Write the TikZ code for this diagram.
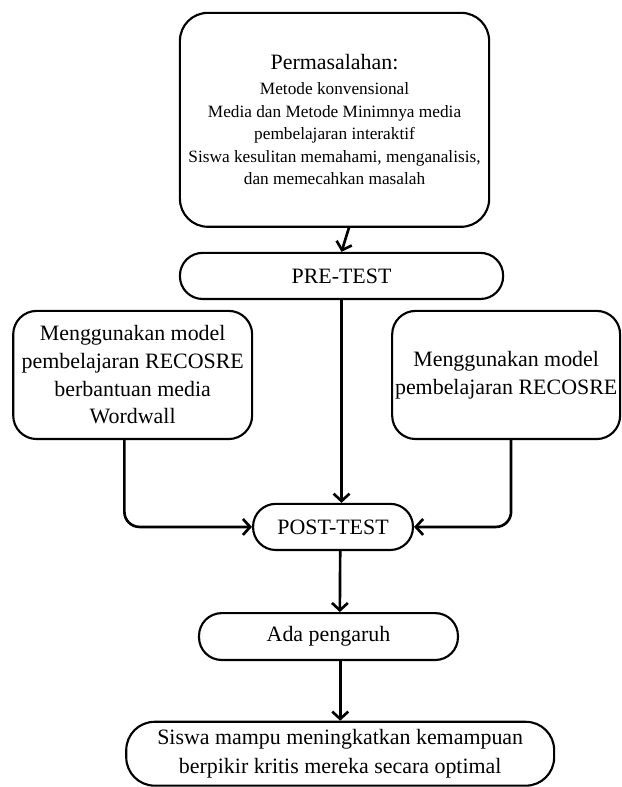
\documentclass[tikz,border=0pt]{standalone}
\usepackage{fontspec}
\setmainfont{Liberation Serif}
\usetikzlibrary{arrows.meta}

\begin{document}
\begin{tikzpicture}[
    every node/.style={align=center},
    probbox/.style={rectangle, draw=black, line width=1.6pt, rounded corners=0.74cm,
                    minimum width=8.18cm, minimum height=5.66cm, inner sep=0pt,
                    font=\fontsize{13}{16.9}\selectfont},
    groupbox/.style={rectangle, draw=black, line width=1.6pt, rounded corners=0.62cm,
                     minimum height=3.39cm, inner sep=0pt,
                     font=\fontsize{16.5}{20.8}\selectfont},
    pill/.style={rectangle, draw=black, line width=1.6pt, rounded corners=0.6cm,
                 minimum height=1.22cm, inner sep=0pt,
                 font=\fontsize{16.5}{22.5}\selectfont},
    arr/.style={-{Straight Barb[length=5.5pt,width=12pt]}, line width=2pt}
  ]
  \useasboundingbox (0,0) rectangle (16.43,20.82);

  \node[probbox] (masalah) at (8.85, 17.65) {
    {\fontsize{16.5}{16.9}\selectfont Permasalahan:}\\[2pt]
    Metode konvensional\\
    Media dan Metode Minimnya media\\
    pembelajaran interaktif\\
    Siswa kesulitan memahami, menganalisis,\\
    dan memecahkan masalah
  };

  \node[pill, minimum width=8.55cm] (pretest) at (9.035, 13.52) {PRE-TEST};

  \node[groupbox, minimum width=6.32cm] (kiri) at (3.51, 10.90) {
    Menggunakan model\\
    pembelajaran RECOSRE\\
    berbantuan media\\
    Wordwall
  };
  \node[groupbox, minimum width=6.03cm] (kanan) at (13.39, 10.90) {
    Menggunakan model\\
    pembelajaran RECOSRE
  };

  \node[pill, minimum width=4.23cm] (posttest) at (8.81, 6.88) {POST-TEST};
  \node[pill, minimum width=6.85cm, minimum height=1.24cm] (ada) at (8.69, 3.98) {Ada pengaruh};
  \node[pill, minimum width=11.32cm, minimum height=1.69cm, rounded corners=0.75cm] (hasil) at (9.0, 0.88) {
    Siswa mampu meningkatkan kemampuan\\
    berpikir kritis mereka secara optimal
  };

  \draw[arr] ([xshift=0.38cm]masalah.south) -- (pretest.north);
  \draw[arr] (pretest.south) -- (pretest.south |- posttest.north);
  \draw[arr, rounded corners=0.4cm] ([xshift=-0.22cm]kiri.south) |- (posttest.west);
  \draw[arr, rounded corners=0.4cm] ([xshift=0.13cm]kanan.south) |- (posttest.east);
  \draw[arr] ([xshift=0.19cm]posttest.south) -- ([xshift=0.30cm]ada.north);
  \draw[arr] (hasil.north |- ada.south) -- (hasil.north);
\end{tikzpicture}
\end{document}
